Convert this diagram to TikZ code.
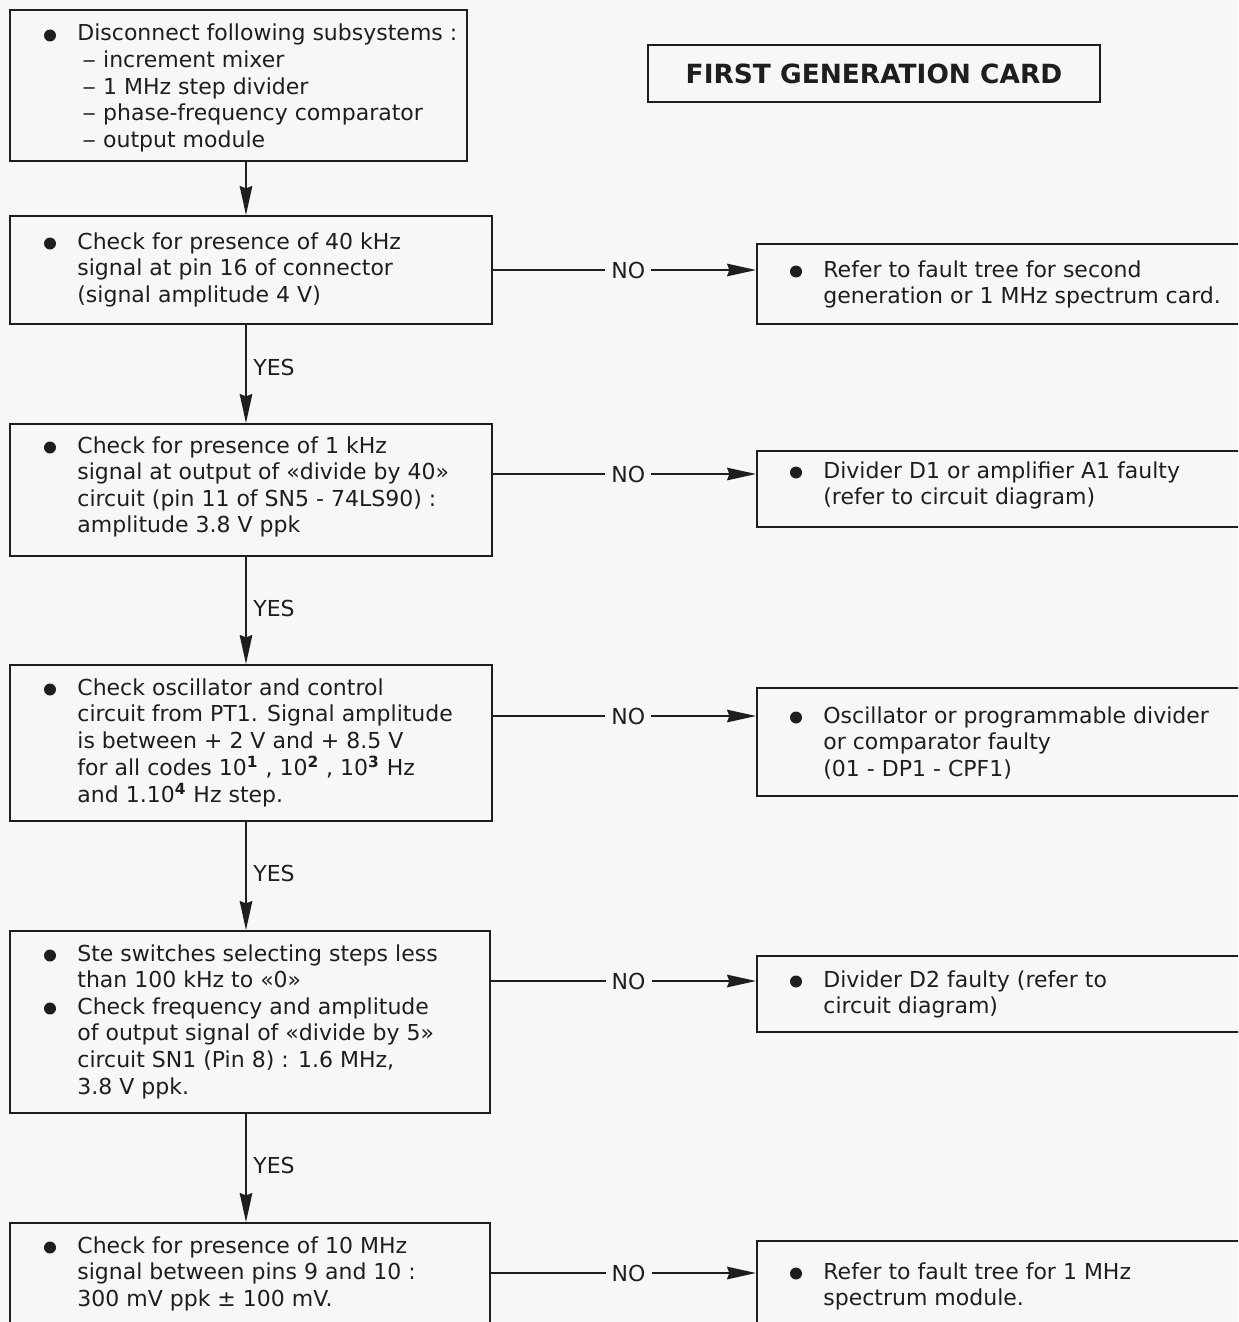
\documentclass[tikz,border=0pt]{standalone}
\usepackage{fontspec}
\usepackage{graphicx}
\setmainfont{DejaVu Sans}
\usetikzlibrary{arrows.meta}
\definecolor{paper}{RGB}{247,247,245}
\definecolor{ink}{RGB}{30,30,30}
\newcommand\ml[1]{\begin{tabular}[t]{@{}l@{}}#1\end{tabular}}
\newcommand\dsh{\hspace{2.5pt}\scalebox{1.25}[1]{–}\ }
\newcommand\sps[1]{\textsuperscript{\bfseries #1}}
\tikzset{
  box/.style={draw=ink, line width=0.8pt, rectangle, anchor=north west, inner sep=0pt},
  txt/.style={anchor=base west, inner sep=0pt, text=ink, font=\fontsize{11pt}{13.3pt}\selectfont},
  bul/.style={circle, fill=ink, inner sep=0pt, minimum size=6pt},
  arr/.style={draw=ink, line width=0.8pt, -{Stealth[length=14.5pt,width=6.3pt,inset=1.2pt]}},
  lbl/.style={text=ink, font=\fontsize{11pt}{13.3pt}\selectfont},
  nolbl/.style={fill=paper, inner xsep=3pt, inner ysep=1pt, text=ink, font=\fontsize{11pt}{13.3pt}\selectfont}
}
\begin{document}
\begin{tikzpicture}[x=0.5pt,y=-0.5pt]
\path[use as bounding box, fill=paper] (0,0) rectangle (1238,1322);
\clip (0,0) rectangle (1238,1322);

% title
\node (title) [box, anchor=center, minimum width=226pt, minimum height=28.5pt,
  font=\bfseries\fontsize{13.2pt}{16pt}\selectfont, text=ink] at (874,73.5) {FIRST GENERATION CARD};

% left boxes
\node (b1) [box, minimum width=228.5pt, minimum height=75.5pt] at (9,9) {};
\node (b2) [box, minimum width=241pt, minimum height=54pt] at (9,215) {};
\node (b3) [box, minimum width=241pt, minimum height=66pt] at (9,423) {};
\node (b4) [box, minimum width=241pt, minimum height=78pt] at (9,664) {};
\node (b5) [box, minimum width=240pt, minimum height=91pt] at (9,930) {};
\node (b6) [box, minimum width=240pt, minimum height=60pt] at (9,1222) {};

% right boxes
\node (r1) [box, minimum width=247pt, minimum height=40pt] at (756,243) {};
\node (r2) [box, minimum width=247pt, minimum height=38pt] at (756,450) {};
\node (r3) [box, minimum width=247pt, minimum height=54pt] at (756,687) {};
\node (r4) [box, minimum width=247pt, minimum height=38pt] at (756,955) {};
\node (r5) [box, minimum width=247pt, minimum height=50pt] at (756,1240) {};

% left texts
\node (bu1) [bul] at (50,35.5) {};
\node (t1) [txt] at (77,41) {\ml{Disconnect following subsystems :\\
\dsh increment mixer\\
\dsh 1 MHz step divider\\
\dsh phase-frequency comparator\\
\dsh output module}};

\node (bu2) [bul] at (50,243.5) {};
\node (t2) [txt] at (77,249) {\ml{Check for presence of 40 kHz\\
signal at pin 16 of connector\\
(signal amplitude 4 V)}};

\node (bu3) [bul] at (50,447.5) {};
\node (t3) [txt] at (77,453) {\ml{Check for presence of 1 kHz\\
signal at output of «divide by 40»\\
circuit (pin 11 of SN5 - 74LS90) :\\
amplitude 3.8 V ppk}};

\node (bu4) [bul] at (50,689.5) {};
\node (t4) [txt] at (77,695) {\ml{Check oscillator and control\\
circuit from PT1. Signal amplitude\\
is between + 2 V and + 8.5 V\\
for all codes 10\sps{1} , 10\sps{2} , 10\sps{3} Hz\\
and 1.10\sps{4} Hz step.}};

\node (bu5a) [bul] at (50,955.5) {};
\node (bu5b) [bul] at (50,1008.5) {};
\node (t5) [txt] at (77,961) {\ml{Ste switches selecting steps less\\
than 100 kHz to «0»\\
Check frequency and amplitude\\
of output signal of «divide by 5»\\
circuit SN1 (Pin 8) : 1.6 MHz,\\
3.8 V ppk.}};

\node (bu6) [bul] at (50,1247.5) {};
\node (t6) [txt] at (77,1253) {\ml{Check for presence of 10 MHz\\
signal between pins 9 and 10 :\\
300 mV ppk ± 100 mV.}};

% right texts
\node (rb1) [bul] at (796,271.5) {};
\node (rt1) [txt] at (823,277) {\ml{Refer to fault tree for second\\
generation or 1 MHz spectrum card.}};
\node (rb2) [bul] at (796,472.5) {};
\node (rt2) [txt] at (823,478) {\ml{Divider D1 or amplifier A1 faulty\\
(refer to circuit diagram)}};
\node (rb3) [bul] at (796,717.5) {};
\node (rt3) [txt] at (823,723) {\ml{Oscillator or programmable divider\\
or comparator faulty\\
(01 - DP1 - CPF1)}};
\node (rb4) [bul] at (796,981.5) {};
\node (rt4) [txt] at (823,987) {\ml{Divider D2 faulty (refer to\\
circuit diagram)}};
\node (rb5) [bul] at (796,1273.5) {};
\node (rt5) [txt] at (823,1279) {\ml{Refer to fault tree for 1 MHz\\
spectrum module.}};

% vertical connectors
\coordinate (ax) at (246,0);
\draw[arr] (b1.south -| ax) -- (b2.north -| ax);
\draw[arr] (b2.south -| ax) -- (b3.north -| ax);
\draw[arr] (b3.south -| ax) -- (b4.north -| ax);
\draw[arr] (b4.south -| ax) -- (b5.north -| ax);
\draw[arr] (b5.south -| ax) -- (b6.north -| ax);
\node (y1) [lbl, anchor=base west, inner sep=0pt] at (253,375) {YES};
\node (y2) [lbl, anchor=base west, inner sep=0pt] at (253,616) {YES};
\node (y3) [lbl, anchor=base west, inner sep=0pt] at (253,881) {YES};
\node (y4) [lbl, anchor=base west, inner sep=0pt] at (253,1173) {YES};

% horizontal connectors
\coordinate (n1) at (0,270);
\coordinate (n2) at (0,474);
\coordinate (n3) at (0,716);
\coordinate (n4) at (0,981);
\coordinate (n5) at (0,1273);
\draw[arr] (b2.east |- n1) -- node[nolbl, pos=0.515] (no1) {NO} (r1.west |- n1);
\draw[arr] (b3.east |- n2) -- node[nolbl, pos=0.515] (no2) {NO} (r2.west |- n2);
\draw[arr] (b4.east |- n3) -- node[nolbl, pos=0.515] (no3) {NO} (r3.west |- n3);
\draw[arr] (b5.east |- n4) -- node[nolbl, pos=0.52] (no4) {NO} (r4.west |- n4);
\draw[arr] (b6.east |- n5) -- node[nolbl, pos=0.52] (no5) {NO} (r5.west |- n5);
\end{tikzpicture}
\end{document}
